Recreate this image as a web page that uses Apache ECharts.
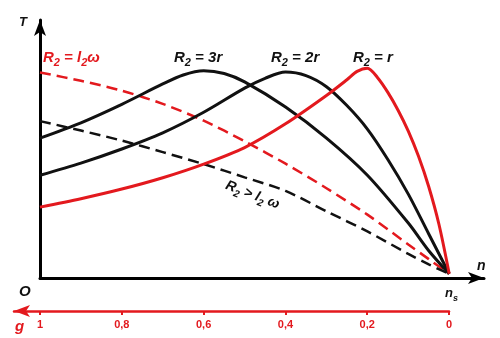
<!DOCTYPE html>
<html><head><meta charset="utf-8">
<script src="https://cdn.jsdelivr.net/npm/echarts@6/dist/echarts.min.js"></script>
<style>html,body{margin:0;padding:0;background:#fff}#c{width:500px;height:338px}</style>
</head><body><div id="c"></div>
<script>
// speed n/ns (0..1) and torque T (relative units)
const speedR1 = [0, 0.1, 0.2, 0.3, 0.4, 0.5, 0.6, 0.7, 0.75, 0.775, 0.8, 0.825, 0.85, 0.875, 0.9, 0.925, 0.95, 0.975, 1];
const torqueR1 = [0.338, 0.378, 0.424, 0.478, 0.543, 0.622, 0.735, 0.87, 0.945, 0.985, 1.0, 0.955, 0.885, 0.8, 0.7, 0.58, 0.435, 0.255, 0.02];

const speedR2 = [0, 0.1, 0.2, 0.3, 0.4, 0.5, 0.55, 0.6, 0.65, 0.7, 0.75, 0.8, 0.85, 0.9, 0.95, 1];
const torqueR2 = [0.49, 0.548, 0.615, 0.692, 0.79, 0.905, 0.952, 0.982, 0.965, 0.912, 0.822, 0.71, 0.565, 0.4, 0.21, 0.02];

const speedR3 = [0, 0.1, 0.2, 0.3, 0.35, 0.4, 0.45, 0.5, 0.6, 0.7, 0.8, 0.9, 0.95, 1];
const torqueR3 = [0.667, 0.74, 0.828, 0.925, 0.968, 0.988, 0.975, 0.935, 0.815, 0.667, 0.49, 0.262, 0.13, 0.02];

const speedRL = [0, 0.1, 0.2, 0.3, 0.4, 0.5, 0.6, 0.7, 0.8, 0.9, 0.95, 1];
const torqueRL = [0.98, 0.94, 0.893, 0.83, 0.75, 0.652, 0.545, 0.428, 0.302, 0.16, 0.09, 0.02];

const speedRG = [0, 0.1, 0.2, 0.3, 0.4, 0.5, 0.6, 0.7, 0.8, 0.9, 0.95, 1];
const torqueRG = [0.748, 0.703, 0.655, 0.6, 0.543, 0.48, 0.415, 0.318, 0.222, 0.115, 0.065, 0.02];

const slipTicks = [0, 0.2, 0.4, 0.6, 0.8, 1];
const slipLabels = ['0', '0,2', '0,4', '0,6', '0,8', '1'];

const RED = '#e3191e';
const BLK = '#111111';
const FONT = '"Liberation Sans", Arial, sans-serif';

function pairs(xs, ys) { return xs.map((x, i) => [x, ys[i]]); }

function rlabel(parts, color, size) {
  const rich = {
    a: { fontFamily: FONT, fontSize: size, fontWeight: 'bold', fontStyle: 'italic', fill: color, lineHeight: 20 },
    b: { fontFamily: FONT, fontSize: Math.round(size * 0.7), fontWeight: 'bold', fontStyle: 'italic', fill: color, lineHeight: 10, verticalAlign: 'bottom' }
  };
  return { rich: rich, text: parts };
}

function txt(x, y, t, color, size, rot, italic) {
  const r = rlabel(t, color, size);
  return {
    type: 'text', x: x, y: y, rotation: rot || 0, z: 10,
    style: { text: r.text, rich: r.rich, fill: color, align: 'left', verticalAlign: 'middle',
             font: (italic === false ? '' : 'italic ') + 'bold ' + size + 'px ' + FONT }
  };
}

const chart = echarts.init(document.getElementById('c'), null, { renderer: 'canvas' });

const lineSeries = (name, xs, ys, color, dashed) => ({
  name: name, type: 'line', xAxisIndex: 0, yAxisIndex: 0,
  data: pairs(xs, ys), showSymbol: false, smooth: 0.3, silent: true,
  lineStyle: { color: color, width: dashed ? 2.5 : 3, type: dashed ? [11, 6] : 'solid' }
});

chart.setOption({
  animation: false,
  backgroundColor: '#fff',
  grid: [
    { left: 40, right: 16, top: 20, bottom: 60 },
    { left: 14, right: 51, top: 300, height: 11 }
  ],
  xAxis: [
    { gridIndex: 0, type: 'value', min: 0, max: 1.085,
      axisLine: { onZero: false, lineStyle: { color: '#000', width: 3 }, symbol: ['none', 'arrow'], symbolSize: [9, 16] },
      axisTick: { show: false }, axisLabel: { show: false }, splitLine: { show: false } },
    { gridIndex: 1, type: 'value', inverse: true, min: 0, max: 1.0636,
      axisLine: { lineStyle: { color: RED, width: 2.5 }, symbol: ['arrow', 'none'], symbolSize: [9, 16] },
      axisTick: { customValues: slipTicks, length: 4, lineStyle: { color: RED, width: 2 } },
      axisLabel: { customValues: slipTicks, margin: 8, color: RED, fontFamily: FONT, fontWeight: 'bold', fontSize: 11,
                   formatter: v => { const i = slipTicks.findIndex(t => Math.abs(t - v) < 1e-6); return i >= 0 ? slipLabels[i] : ''; } },
      splitLine: { show: false } }
  ],
  yAxis: [
    { gridIndex: 0, type: 'value', min: 0, max: 1.23,
      axisLine: { onZero: false, lineStyle: { color: '#000', width: 3 }, symbol: ['none', 'arrow'], symbolSize: [9, 16] },
      axisTick: { show: false }, axisLabel: { show: false }, splitLine: { show: false } },
    { gridIndex: 1, type: 'value', min: 0, max: 1, show: false }
  ],
  series: [
    lineSeries('R2 = l2ω', speedRL, torqueRL, RED, true),
    lineSeries('R2 > l2ω', speedRG, torqueRG, BLK, true),
    lineSeries('R2 = 3r', speedR3, torqueR3, BLK, false),
    lineSeries('R2 = 2r', speedR2, torqueR2, BLK, false),
    lineSeries('R2 = r', speedR1, torqueR1, RED, false)
  ],
  graphic: [
    txt(19, 22, '{a|T}', BLK, 13, 0, false),
    txt(19, 292, '{a|O}', BLK, 15, 0, false),
    txt(477, 266, '{a|n}', BLK, 14, 0, false),
    txt(445, 293, '{a|n}{b|s}', BLK, 13, 0, false),
    txt(15, 327, '{a|g}', RED, 15),
    txt(43, 58, '{a|R}{b|2}{a| = }{a|l}{b|2}{a|ω}', RED, 15),
    txt(174, 58, '{a|R}{b|2}{a| = 3r}', BLK, 15),
    txt(271, 58, '{a|R}{b|2}{a| = 2r}', BLK, 15),
    txt(353, 58, '{a|R}{b|2}{a| = r}', BLK, 15),
    txt(226, 185, '{a|R}{b|2}{a| > }{a|l}{b|2}{a| ω}', BLK, 14, -0.36)
  ]
});
</script>
</body></html>
